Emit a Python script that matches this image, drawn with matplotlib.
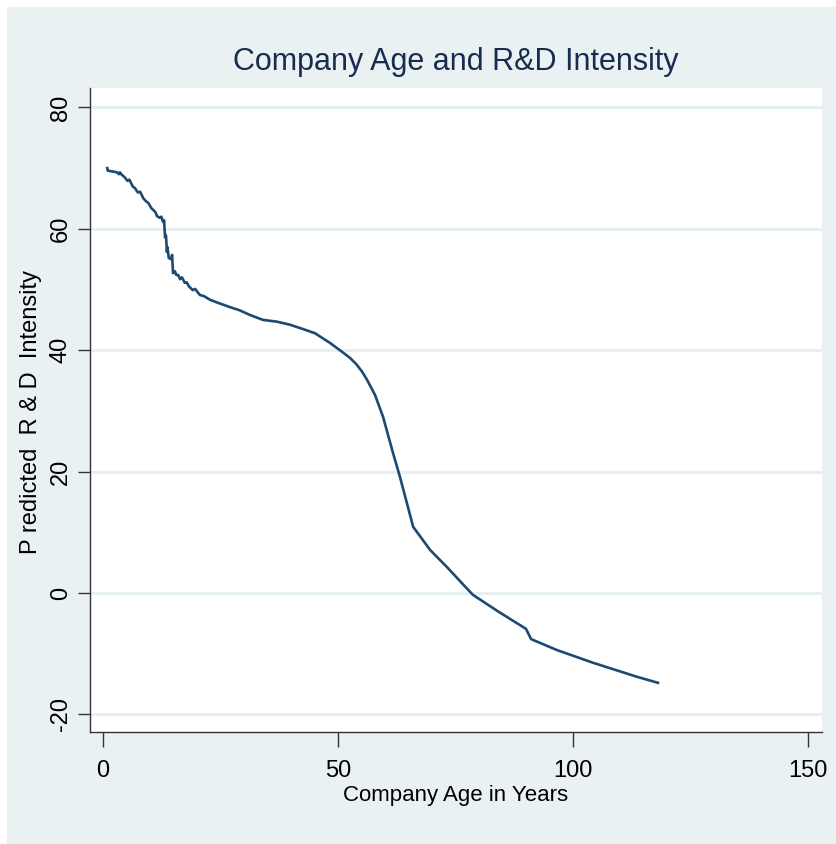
import matplotlib
matplotlib.use('Agg')
import matplotlib.pyplot as plt
from matplotlib.patches import Rectangle

plt.rcParams['font.family'] = ['Liberation Sans Narrow', 'Liberation Sans', 'DejaVu Sans']
plt.rcParams['axes.unicode_minus'] = False

# predicted R&D intensity by company age
age = [0.9, 1.0, 1.6, 2.4, 3.0, 3.4, 3.6, 4.0, 4.6, 5.2, 5.6, 6.0, 6.3, 6.8,
       7.4, 7.9, 8.6, 9.2, 9.6, 10.3, 11.1, 11.5, 12.1, 12.4, 12.8, 13.0, 13.2,
       13.4, 13.6, 13.7, 14.0, 14.5, 14.7, 14.9, 15.3, 15.6, 16.0, 16.4,
       16.8, 17.4, 17.8, 18.3, 19.1, 19.6, 20.6, 21.5, 22.8, 24.5, 27.0,
       29.0, 31.3, 34.0, 37.0, 39.8, 42.5, 45.1, 48.3, 50.4, 51.1, 52.6,
       53.9, 55.1, 56.2, 57.9, 59.6, 61.7, 63.2, 66.0, 69.6, 73.4, 76.4,
       78.7, 84.0, 90.0, 91.1, 96.6, 104.3, 113.6, 118.1]
rd_intensity = [70.0, 69.6, 69.5, 69.4, 69.3, 69.0, 69.3, 68.9, 68.5, 67.9, 68.1,
                67.5, 67.0, 66.7, 66.0, 66.1, 65.0, 64.5, 64.3, 63.4, 62.8,
                62.1, 61.8, 62.0, 61.1, 61.4, 58.6, 58.9, 56.2, 57.0, 55.2,
                55.0, 55.7, 52.7, 53.0, 52.4, 52.4, 51.7, 52.0, 51.1, 51.2,
                50.5, 49.9, 50.1, 49.1, 48.9, 48.3, 47.8, 47.1, 46.6, 45.8,
                45.0, 44.7, 44.2, 43.5, 42.8, 41.2, 40.0, 39.6, 38.7,
                37.7, 36.5, 35.1, 32.6, 29.0, 23.1, 19.1, 10.9, 7.1, 4.1,
                1.6, -0.3, -3.0, -5.9, -7.6, -9.4, -11.5, -13.8, -14.8]

x_ticks = [0, 50, 100, 150]
y_ticks = [-20, 0, 20, 40, 60, 80]

bg = '#EAF1F3'
navy = '#1A2B50'
line_color = '#1B4A73'

fig = plt.figure(figsize=(8.36, 8.44), dpi=100)
fig.patch.set_facecolor('white')
fig.patches.append(Rectangle((7 / 836, 0), 1, 1 - 7 / 844, transform=fig.transFigure,
                             facecolor=bg, edgecolor='none', zorder=-1))

ax = fig.add_axes([90 / 836, 1 - 732 / 844, (822 - 90) / 836, (732 - 88) / 844])
ax.set_facecolor('white')
ax.plot(age, rd_intensity, color=line_color, linewidth=1.9)

ax.set_xlim(-2.77, 153.0)
ax.set_ylim(-22.9, 83.2)
ax.set_xticks(x_ticks)
ax.set_yticks(y_ticks)
ax.grid(True, axis='y', color='#E6EFF2', linewidth=2.2)
ax.set_axisbelow(True)

for side in ['top', 'right']:
    ax.spines[side].set_visible(False)
for side in ['left', 'bottom']:
    ax.spines[side].set_color('#333333')
    ax.spines[side].set_linewidth(1.0)

ax.tick_params(axis='x', length=11, width=1, color='#333333', labelsize=17,
               labelcolor='black', pad=9)
ax.tick_params(axis='y', length=9, width=1, color='#333333', labelsize=17,
               labelcolor='black', pad=4)
for lbl in ax.get_yticklabels():
    lbl.set_rotation(90)
    lbl.set_va('center')

fig.text(456 / 836, 1 - 62 / 844, 'Company Age and R&D Intensity', ha='center',
         va='center', fontsize=22, color=navy)
fig.text(456 / 836, 1 - 796 / 844, 'Company Age in Years', ha='center',
         va='center', fontsize=16, color='black')
fig.text(31 / 836, 1 - 412 / 844, 'P redicted  R & D  Intensity', ha='center',
         va='center', fontsize=17, rotation=90, color='black')

fig.savefig('out.png', dpi=100, facecolor=fig.get_facecolor())
